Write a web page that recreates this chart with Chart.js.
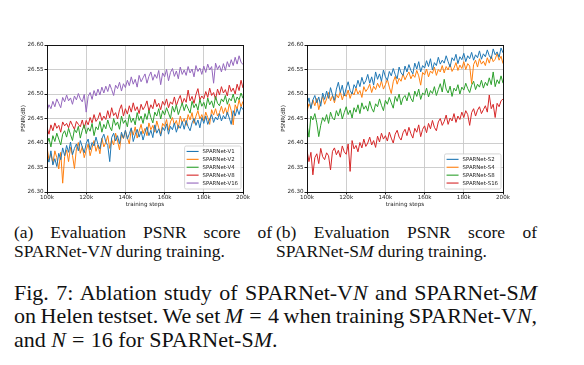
<!DOCTYPE html>
<html>
<head>
<meta charset="utf-8">
<script src="https://cdn.jsdelivr.net/npm/chart.js@4.4.1/dist/chart.umd.min.js"></script>
<style>
  html, body { margin: 0; padding: 0; background: #fff; }
  body { width: 584px; height: 365px; position: relative; overflow: hidden; }
  canvas { position: absolute; }
  .cap { position: absolute; font-family: "Liberation Serif", "Times New Roman", serif; color: #111; white-space: nowrap; display: inline-block; }
  .sub { font-size: 17.5px; line-height: 20px; }
  .main { font-size: 22px; line-height: 24px; }
  .eq { margin: 0 0.28em; font-style: normal; }
</style>
</head>
<body>
<canvas id="c1" width="255" height="173" style="left:0px;top:35px;"></canvas>
<canvas id="c2" width="255" height="173" style="left:260px;top:35px;"></canvas>

<div class="cap sub fit" data-w="258" style="left:14px;top:222px;">(a) Evaluation PSNR score of</div>
<div class="cap sub" style="left:14px;top:241px;">SPARNet-V<i>N</i> during training.</div>
<div class="cap sub fit" data-w="261" style="left:276px;top:222px;">(b) Evaluation PSNR score of</div>
<div class="cap sub" style="left:276px;top:241px;">SPARNet-S<i>M</i> during training.</div>

<div class="cap main fit" data-w="523" style="left:14px;top:281px;">Fig. 7: Ablation study of SPARNet-V<i>N</i> and SPARNet-S<i>M</i></div>
<div class="cap main fit" data-w="523" style="left:14px;top:304px;">on Helen testset. We set <i>M</i><span class="eq">=</span>4 when training SPARNet-V<i>N</i>,</div>
<div class="cap main" style="left:14px;top:328px;">and <i>N</i><span class="eq">=</span>16 for SPARNet-S<i>M</i>.</div>

<script>
// training steps (k)
const steps = [100,101,102,103,104,105,106,107,108,109,110,111,112,113,114,115,116,117,118,119,
120,121,122,123,124,125,126,127,128,129,130,131,132,133,134,135,136,137,138,139,
140,141,142,143,144,145,146,147,148,149,150,151,152,153,154,155,156,157,158,159,
160,161,162,163,164,165,166,167,168,169,170,171,172,173,174,175,176,177,178,179,
180,181,182,183,184,185,186,187,188,189,190,191,192,193,194,195,196,197,198,199,200];

const xTicks = [100,120,140,160,180,200];
const yTicks = [26.30,26.35,26.40,26.45,26.50,26.55,26.60];

const namesV = ["SPARNet-V1","SPARNet-V2","SPARNet-V4","SPARNet-V8","SPARNet-V16"];
const namesS = ["SPARNet-S2","SPARNet-S4","SPARNet-S8","SPARNet-S16"];

const v1 = [26.372,26.361,26.384,26.355,26.368,26.352,26.379,26.366,26.390,26.374,
26.395,26.381,26.402,26.376,26.389,26.398,26.384,26.405,26.392,26.380,
26.399,26.408,26.386,26.401,26.394,26.412,26.397,26.388,26.409,26.418,
26.402,26.395,26.362,26.411,26.420,26.404,26.415,26.398,26.422,26.410,
26.426,26.408,26.419,26.431,26.403,26.417,26.428,26.412,26.424,26.406,
26.421,26.433,26.415,26.426,26.411,26.437,26.420,26.429,26.414,26.432,
26.425,26.439,26.418,26.434,26.427,26.441,26.422,26.436,26.430,26.444,
26.428,26.446,26.433,26.425,26.441,26.450,26.436,26.447,26.431,26.452,
26.440,26.455,26.438,26.449,26.458,26.442,26.453,26.447,26.460,26.445,
26.456,26.449,26.463,26.451,26.438,26.466,26.455,26.470,26.458,26.474,26.468];

const v2 = [26.392,26.365,26.378,26.358,26.384,26.370,26.347,26.381,26.318,26.372,
26.386,26.362,26.391,26.375,26.348,26.388,26.401,26.379,26.393,26.370,
26.385,26.398,26.374,26.390,26.405,26.383,26.396,26.378,26.410,26.392,
26.401,26.415,26.389,26.407,26.396,26.420,26.404,26.386,26.418,26.409,
26.425,26.411,26.398,26.429,26.416,26.433,26.410,26.424,26.438,26.419,
26.430,26.415,26.441,26.427,26.436,26.422,26.445,26.431,26.418,26.440,
26.434,26.448,26.426,26.443,26.452,26.437,26.446,26.430,26.455,26.441,
26.450,26.436,26.458,26.447,26.462,26.440,26.455,26.466,26.449,26.458,
26.445,26.463,26.452,26.438,26.468,26.457,26.470,26.455,26.462,26.475,
26.460,26.472,26.458,26.480,26.466,26.437,26.478,26.469,26.488,26.474,26.485];

const v4 = [26.398,26.410,26.392,26.415,26.403,26.420,26.408,26.396,26.418,26.425,
26.412,26.430,26.417,26.405,26.428,26.421,26.434,26.410,26.426,26.437,
26.419,26.431,26.424,26.440,26.415,26.433,26.427,26.444,26.422,26.438,
26.429,26.447,26.433,26.425,26.450,26.436,26.443,26.428,26.455,26.440,
26.447,26.433,26.458,26.442,26.451,26.437,26.462,26.446,26.455,26.440,
26.460,26.448,26.467,26.452,26.441,26.463,26.455,26.470,26.449,26.466,
26.457,26.472,26.461,26.450,26.475,26.463,26.478,26.458,26.470,26.482,
26.466,26.479,26.470,26.461,26.485,26.472,26.480,26.467,26.489,26.475,
26.483,26.470,26.492,26.478,26.486,26.472,26.495,26.481,26.476,26.490,
26.484,26.497,26.479,26.491,26.486,26.500,26.482,26.494,26.488,26.502,26.491];

const v8 = [26.432,26.418,26.437,26.425,26.441,26.430,26.436,26.422,26.443,26.435,
26.440,26.431,26.445,26.436,26.428,26.444,26.438,26.433,26.447,26.430,
26.446,26.437,26.452,26.441,26.458,26.444,26.450,26.462,26.446,26.455,
26.448,26.466,26.451,26.472,26.456,26.462,26.449,26.468,26.478,26.455,
26.470,26.459,26.476,26.463,26.482,26.466,26.474,26.460,26.479,26.468,
26.475,26.486,26.465,26.478,26.470,26.489,26.474,26.481,26.468,26.485,
26.477,26.490,26.472,26.484,26.479,26.494,26.476,26.488,26.497,26.480,
26.491,26.483,26.508,26.486,26.495,26.481,26.499,26.511,26.488,26.496,
26.490,26.505,26.493,26.512,26.497,26.503,26.489,26.510,26.498,26.515,
26.502,26.509,26.496,26.518,26.505,26.512,26.500,26.520,26.507,26.528,26.512];

const v16 = [26.465,26.478,26.470,26.485,26.474,26.490,26.481,26.472,26.493,26.484,
26.498,26.486,26.492,26.479,26.496,26.488,26.501,26.490,26.484,26.499,
26.463,26.495,26.503,26.489,26.507,26.496,26.510,26.498,26.514,26.502,
26.516,26.505,26.520,26.509,26.497,26.518,26.511,26.524,26.506,26.521,
26.513,26.528,26.517,26.535,26.520,26.530,26.514,26.538,26.525,26.533,
26.541,26.522,26.536,26.545,26.528,26.540,26.532,26.548,26.519,26.543,
26.535,26.550,26.527,26.544,26.552,26.536,26.547,26.531,26.555,26.540,
26.549,26.538,26.556,26.543,26.551,26.535,26.558,26.546,26.553,26.540,
26.557,26.544,26.561,26.549,26.556,26.522,26.563,26.550,26.558,26.545,
26.562,26.548,26.566,26.555,26.570,26.558,26.575,26.561,26.578,26.565,26.560];

const s2 = [26.478,26.492,26.470,26.488,26.497,26.482,26.494,26.475,26.502,26.489,
26.506,26.491,26.513,26.498,26.487,26.510,26.524,26.503,26.518,26.496,
26.512,26.525,26.507,26.500,26.519,26.512,26.528,26.515,26.534,26.520,
26.527,26.540,26.522,26.535,26.518,26.545,26.530,26.541,26.526,26.549,
26.535,26.528,26.546,26.537,26.552,26.540,26.531,26.555,26.543,26.538,
26.557,26.545,26.560,26.548,26.541,26.563,26.551,26.566,26.545,26.558,
26.553,26.568,26.556,26.572,26.549,26.564,26.558,26.575,26.561,26.569,
26.563,26.578,26.566,26.555,26.574,26.568,26.581,26.562,26.576,26.570,
26.583,26.566,26.578,26.572,26.585,26.569,26.580,26.574,26.588,26.571,
26.582,26.576,26.590,26.578,26.572,26.592,26.580,26.586,26.575,26.594,26.584];

const s4 = [26.465,26.480,26.472,26.488,26.476,26.491,26.468,26.484,26.495,26.479,
26.490,26.503,26.486,26.497,26.482,26.499,26.492,26.505,26.488,26.501,
26.495,26.508,26.491,26.504,26.498,26.512,26.500,26.507,26.493,26.515,
26.505,26.511,26.520,26.503,26.516,26.509,26.522,26.513,26.527,26.510,
26.519,26.530,26.514,26.501,26.525,26.536,26.520,26.532,26.526,26.541,
26.529,26.538,26.545,26.531,26.540,26.534,26.548,26.537,26.518,26.544,
26.539,26.551,26.535,26.547,26.542,26.555,26.538,26.550,26.545,26.558,
26.543,26.556,26.549,26.561,26.546,26.553,26.564,26.548,26.559,26.552,
26.566,26.550,26.562,26.557,26.521,26.560,26.569,26.555,26.572,26.561,
26.567,26.558,26.574,26.563,26.578,26.566,26.571,26.583,26.569,26.577,26.562];

const s8 = [26.438,26.412,26.455,26.447,26.460,26.441,26.413,26.436,26.452,26.444,
26.458,26.440,26.463,26.451,26.447,26.466,26.455,26.470,26.449,26.462,
26.474,26.458,26.467,26.451,26.472,26.463,26.478,26.460,26.482,26.469,
26.476,26.465,26.485,26.471,26.463,26.480,26.474,26.490,26.477,26.466,
26.487,26.479,26.493,26.482,26.471,26.495,26.485,26.500,26.478,26.492,
26.497,26.486,26.503,26.491,26.484,26.506,26.495,26.510,26.489,26.502,
26.498,26.512,26.494,26.507,26.501,26.515,26.497,26.509,26.521,26.504,
26.530,26.510,26.502,26.516,26.495,26.512,26.506,26.519,26.500,26.514,
26.508,26.522,26.511,26.503,26.518,26.526,26.509,26.520,26.514,26.528,
26.512,26.524,26.517,26.533,26.519,26.545,26.515,26.529,26.521,26.537,26.522];

const s16 = [26.385,26.362,26.381,26.335,26.370,26.378,26.358,26.389,26.372,26.366,
26.380,26.374,26.345,26.383,26.390,26.376,26.385,26.371,26.394,26.382,
26.377,26.398,26.342,26.405,26.388,26.395,26.382,26.401,26.390,26.408,
26.393,26.400,26.412,26.396,26.405,26.391,26.414,26.402,26.420,26.408,
26.415,26.404,26.422,26.410,26.400,26.418,26.426,26.412,26.406,26.421,
26.428,26.415,26.432,26.419,26.410,26.430,26.422,26.437,26.413,26.428,
26.435,26.421,26.440,26.429,26.446,26.432,26.425,26.443,26.450,26.436,
26.444,26.457,26.438,26.451,26.445,26.460,26.442,26.455,26.448,26.463,
26.452,26.466,26.458,26.436,26.462,26.470,26.455,26.467,26.474,26.460,
26.468,26.476,26.463,26.498,26.470,26.479,26.452,26.481,26.474,26.486,26.490];

const colors = ["#1f77b4","#ff7f0e","#2ca02c","#d62728","#9467bd"];

// justify caption lines to their measured column widths
function fitLines() {
  document.querySelectorAll('.fit').forEach(el => {
    const target = +el.dataset.w;
    el.style.wordSpacing = '0px';
    const nat = el.getBoundingClientRect().width;
    const n = (el.textContent.match(/ /g) || []).length;
    if (n > 0) el.style.wordSpacing = ((target - nat) / n) + 'px';
  });
}
fitLines();
if (document.fonts && document.fonts.ready) document.fonts.ready.then(fitLines);

Chart.defaults.font.family = '"DejaVu Sans", sans-serif';
Chart.defaults.color = '#222';

const frameLegend = {
  id: 'frameLegend',
  afterDatasetsDraw(chart) {
    const ctx = chart.ctx, ca = chart.chartArea;
    ctx.save();
    ctx.strokeStyle = '#000';
    ctx.lineWidth = 0.9;
    ctx.strokeRect(Math.round(ca.left) + 0.5, Math.round(ca.top) + 0.5,
                   Math.round(ca.right - ca.left), Math.round(ca.bottom - ca.top));
    ctx.restore();
  },
  afterDraw(chart) {
    const ctx = chart.ctx, ca = chart.chartArea;
    const ds = chart.data.datasets;
    const fs = 5.4, rowH = 7.9;
    ctx.save();
    ctx.font = fs + 'px "DejaVu Sans", sans-serif';
    let tw = 0;
    ds.forEach(d => { tw = Math.max(tw, ctx.measureText(d.label).width); });
    const boxW = 2 + 12 + 4 + tw + 3;
    const boxH = 1.5 + ds.length * rowH + 2;
    const x0 = ca.right - 2 - boxW, y0 = ca.bottom - 3 - boxH;
    ctx.fillStyle = 'rgba(255,255,255,0.85)';
    ctx.strokeStyle = '#cccccc';
    ctx.lineWidth = 0.8;
    ctx.beginPath();
    if (ctx.roundRect) ctx.roundRect(x0, y0, boxW, boxH, 1.5); else ctx.rect(x0, y0, boxW, boxH);
    ctx.fill(); ctx.stroke();
    ds.forEach((d, i) => {
      const cy = y0 + 1.5 + rowH * (i + 0.5);
      ctx.strokeStyle = d.borderColor;
      ctx.lineWidth = 1.1;
      ctx.beginPath();
      ctx.moveTo(x0 + 2, cy); ctx.lineTo(x0 + 14, cy);
      ctx.stroke();
      ctx.fillStyle = '#222';
      ctx.textBaseline = 'middle';
      ctx.textAlign = 'left';
      ctx.fillText(d.label, x0 + 18, cy + 0.3);
    });
    ctx.restore();
  }
};

function makeChart(id, names, series) {
  const datasets = series.map((s, i) => ({
    label: names[i],
    data: s,
    borderColor: colors[i],
    backgroundColor: colors[i],
    borderWidth: 1,
    pointRadius: 0,
    tension: 0,
    fill: false
  }));
  return new Chart(document.getElementById(id), {
    type: 'line',
    data: { labels: steps, datasets },
    plugins: [frameLegend],
    options: {
      responsive: false,
      animation: false,
      layout: { padding: { left: 20, right: 12, top: 10, bottom: 0 } },
      plugins: { legend: { display: false }, tooltip: { enabled: false } },
      scales: {
        x: {
          type: 'linear',
          min: 100, max: 200,
          afterBuildTicks: (axis) => { axis.ticks = xTicks.map(v => ({ value: v })); },
          afterFit: (axis) => { axis.height = 16; },
          ticks: { callback: v => v + 'k', font: { size: 5.6 }, padding: 0, maxRotation: 0, autoSkip: false, color: '#222' },
          grid: { color: '#c8c8c8', lineWidth: 0.9, tickColor: '#000', tickLength: 2.5 },
          border: { display: false },
          title: { display: true, text: 'training steps', font: { size: 5.6 }, padding: 0, color: '#222' }
        },
        y: {
          min: 26.30, max: 26.60,
          afterBuildTicks: (axis) => { axis.ticks = yTicks.map(v => ({ value: v })); },
          afterFit: (axis) => { axis.width = 27; },
          ticks: { callback: v => Number(v).toFixed(2), font: { size: 5.6 }, padding: 1, color: '#222' },
          grid: { color: '#c8c8c8', lineWidth: 0.9, tickColor: '#000', tickLength: 2.5 },
          border: { display: false },
          title: { display: true, text: 'PSNR(dB)', font: { size: 5.6 }, padding: 0, color: '#222' }
        }
      }
    }
  });
}

makeChart('c1', namesV, [v1, v2, v4, v8, v16]);
makeChart('c2', namesS, [s2, s4, s8, s16]);
</script>
</body>
</html>
